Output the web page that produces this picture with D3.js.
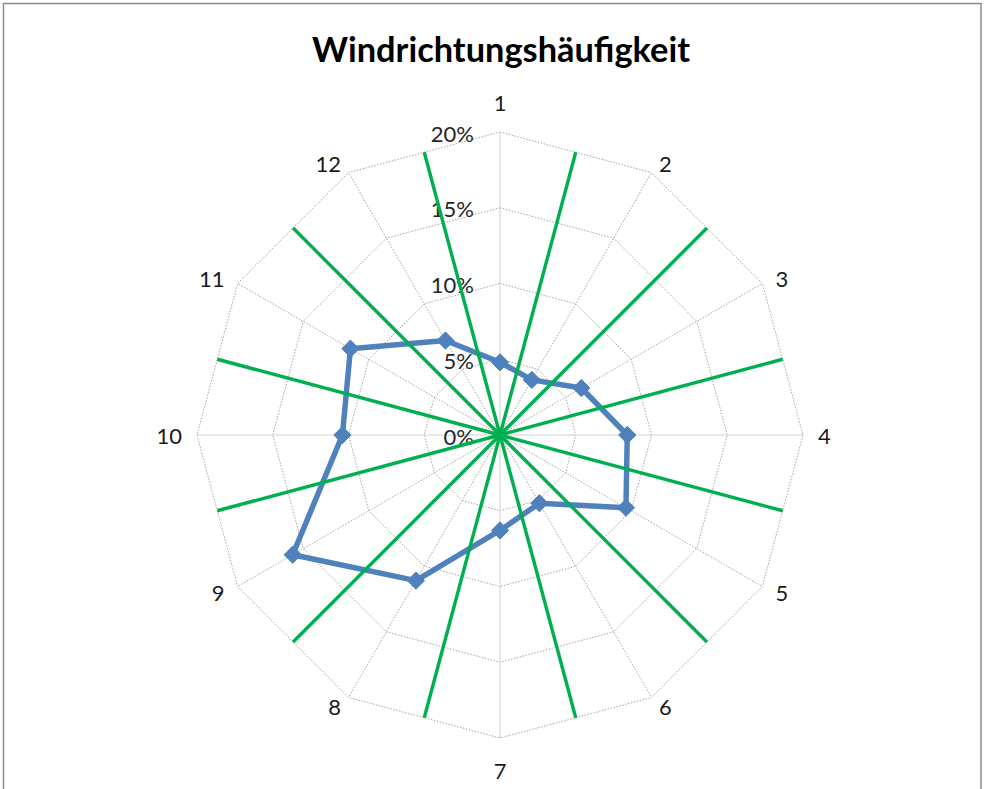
<!DOCTYPE html>
<html lang="de">
<head>
<meta charset="utf-8">
<title>Windrichtungshäufigkeit</title>
<script src="https://cdn.jsdelivr.net/npm/d3@7/dist/d3.min.js"></script>
<style>
  html, body { margin: 0; padding: 0; background: #ffffff; }
  svg { display: block; font-family: Lato, "Open Sans", "Liberation Sans", sans-serif; }
</style>
</head>
<body>
<svg id="chart" width="984" height="789"></svg>
<script>
// Wind direction sectors (1–12) and the share of each direction in percent
const directions = ["1", "2", "3", "4", "5", "6", "7", "8", "9", "10", "11", "12"];
const frequency = [4.8, 4.2, 6.2, 8.4, 9.6, 5.2, 6.3, 11.1, 15.8, 10.4, 11.4, 7.2];

// Radial axis ticks (percent)
const radialTicks = [0, 5, 10, 15, 20];
const radialTickLabels = ["0%", "5%", "10%", "15%", "20%"];

// Sector boundaries, halfway between neighbouring directions
const sectorBounds = [0.5, 1.5, 2.5, 3.5, 4.5, 5.5, 6.5, 7.5, 8.5, 9.5, 10.5, 11.5];

const title = "Windrichtungshäufigkeit";

const width = 984, height = 789;
const cx = 500, cy = 435, outerR = 303;

const svg = d3.select("#chart");

// Chart frame
svg.append("rect")
  .attr("x", 3.5).attr("y", 3.5)
  .attr("width", 977.5).attr("height", 820)
  .attr("fill", "#ffffff")
  .attr("stroke", "#8c8c8c").attr("stroke-width", 1.5);

const r = d3.scaleLinear().domain([0, 20]).range([0, outerR]);
// index -> angle (radians, clockwise from north)
const angle = d3.scaleLinear().domain([0, directions.length]).range([0, 2 * Math.PI]);

const g = svg.append("g").attr("transform", `translate(${cx},${cy})`);

const px = (i, v) => Math.sin(angle(i)) * r(v);
const py = (i, v) => -Math.cos(angle(i)) * r(v);

// Concentric grid polygons
const ringLine = d3.lineRadial()
  .angle((d, i) => angle(i))
  .curve(d3.curveLinearClosed);

g.append("g").attr("class", "rings")
  .selectAll("path")
  .data(radialTicks.filter(t => t > 0))
  .join("path")
  .attr("d", t => ringLine.radius(() => r(t))(directions))
  .attr("fill", "none")
  .attr("stroke", "#a6a6a6")
  .attr("stroke-width", 1)
  .attr("stroke-dasharray", "1.5,1.5");

// Spokes
g.append("g").attr("class", "spokes")
  .selectAll("line")
  .data(directions)
  .join("line")
  .attr("x1", 0).attr("y1", 0)
  .attr("x2", (d, i) => px(i, 20))
  .attr("y2", (d, i) => py(i, 20))
  .attr("stroke", (d, i) => i % 3 === 0 ? "#d0d0d0" : "#a6a6a6")
  .attr("stroke-width", 1)
  .attr("stroke-dasharray", (d, i) => i % 3 === 0 ? null : "1.5,1.5");

// Radial tick labels
g.append("g").attr("class", "ticks")
  .selectAll("text")
  .data(radialTicks)
  .join("text")
  .attr("x", -26)
  .attr("y", t => -r(t) + 1)
  .attr("text-anchor", "end")
  .attr("dominant-baseline", "central")
  .attr("font-size", 22)
  .attr("fill", "#262626")
  .text((t, i) => radialTickLabels[i]);

// Direction labels around the outer polygon
g.append("g").attr("class", "dir-labels")
  .selectAll("text")
  .data(directions)
  .join("text")
  .each(function (d, i) {
    const a = angle(i);
    const s = Math.sin(a), c = Math.cos(a);
    const vx = px(i, 20), vy = py(i, 20);
    let x, y, anchor;
    if (Math.abs(s) < 0.1) {
      anchor = "middle";
      x = vx;
      y = vy + (c > 0 ? -30 : 32);
    } else {
      anchor = s > 0 ? "start" : "end";
      x = vx + s * 15;
      y = vy - c * 11;
    }
    d3.select(this)
      .attr("x", x).attr("y", y)
      .attr("text-anchor", anchor)
      .attr("dominant-baseline", "central");
  })
  .attr("font-size", 22)
  .attr("fill", "#1a1a1a")
  .text(d => d);

// Frequency series
const seriesLine = d3.lineRadial()
  .angle((d, i) => angle(i))
  .radius(d => r(d))
  .curve(d3.curveLinearClosed);

g.append("path")
  .attr("d", seriesLine(frequency))
  .attr("fill", "none")
  .attr("stroke", "#4f81bd")
  .attr("stroke-width", 5.5)
  .attr("stroke-linejoin", "round");

g.append("g").attr("class", "markers")
  .selectAll("path")
  .data(frequency)
  .join("path")
  .attr("d", d3.symbol(d3.symbolDiamond2, 190))
  .attr("transform", (d, i) => `translate(${px(i, d)},${py(i, d)})`)
  .attr("fill", "#4f81bd")
  .attr("stroke", "#4f81bd")
  .attr("stroke-width", 1);

// Sector boundary lines, reaching the outer grid edge
const edgeR = r(20) * Math.cos(Math.PI / directions.length);
g.append("g").attr("class", "sectors")
  .selectAll("line")
  .data(sectorBounds)
  .join("line")
  .attr("x1", 0).attr("y1", 0)
  .attr("x2", b => Math.sin(angle(b)) * edgeR)
  .attr("y2", b => -Math.cos(angle(b)) * edgeR)
  .attr("stroke", "#00b050")
  .attr("stroke-width", 3.4);

// Title
const titleText = svg.append("text")
  .attr("x", 501)
  .attr("y", 62)
  .attr("text-anchor", "middle")
  .attr("font-weight", "bold")
  .attr("font-size", 28)
  .attr("fill", "#000000")
  .text(title);
const tw = titleText.node().getComputedTextLength();
if (tw > 0) titleText.attr("font-size", 28 * 378 / tw);
</script>
</body>
</html>
